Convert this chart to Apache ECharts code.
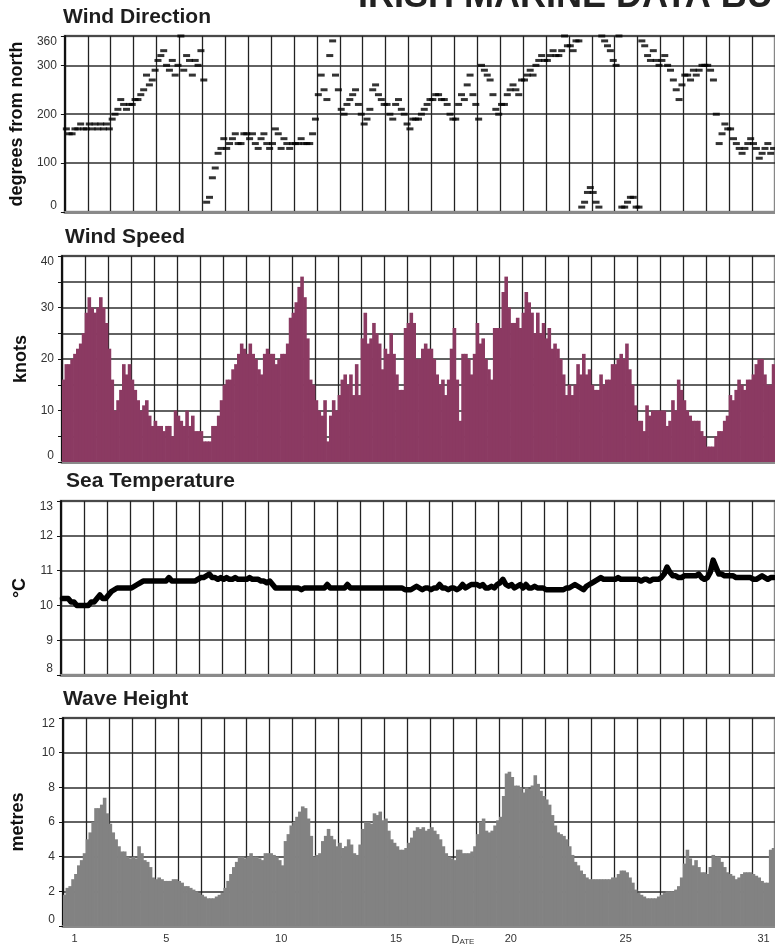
<!DOCTYPE html>
<html><head><meta charset="utf-8">
<script src="https://cdn.jsdelivr.net/npm/echarts@6/dist/echarts.min.js"></script>
<style>html,body{margin:0;padding:0;background:#fff}#c{width:775px;height:947px}</style>
</head><body><div id="c"></div>
<script>
// ---- data (3-hourly readings, 8 per day, 31 days) ----
const days = ['1','2','3','4','5','6','7','8','9','10','11','12','13','14','15','16','17','18','19','20','21','22','23','24','25','26','27','28','29','30','31'];
const labeledDays = ['1','5','10','15','20','25','31'];

const windDirection = [
 170,160,160,170,170,180,170,170, 180,170,180,170,180,170,180,170, 190,200,210,230,220,210,220,220,
 230,230,240,250,280,260,270,290, 310,320,330,300,290,310,280,300, 360,290,320,310,280,310,300,330,
 270,20,30,70,90,120,130,150, 130,140,150,160,140,140,160,160, 150,160,140,130,150,160,140,130,
 140,170,160,130,150,140,130,140, 140,140,150,140,140,140,160,190, 240,280,250,230,320,350,280,250,
 210,200,220,230,240,250,220,200, 180,190,210,250,260,240,230,220, 220,200,190,220,230,210,200,180,
 170,190,190,190,200,210,220,230, 230,240,240,230,230,220,200,190, 190,220,240,230,260,280,240,220,
 190,300,290,280,270,240,210,200, 220,220,240,250,260,250,240,270, 270,280,290,280,300,310,320,310,
 310,320,330,320,320,330,360,340, 340,330,350,350,10,20,40,50, 40,20,10,360,350,340,330,310,
 300,360,10,10,20,30,30,10, 10,350,340,320,310,330,310,300, 310,320,300,290,270,250,230,260,
 280,280,270,290,280,290,300,300, 300,290,270,200,140,160,180,170, 170,150,140,130,120,130,140,150,
 140,130,110,120,130,140,120,130
];

const windSpeed = [
 16,19,19,20,21,22,23,25, 29,32,30,29,30,32,30,27, 22,16,10,12,14,19,17,19,
 16,14,12,10,11,12,9,7, 8,7,7,6,7,7,5,10, 9,8,7,10,7,9,6,6,
 6,4,4,4,7,7,9,12, 15,16,16,18,19,21,23,22, 21,23,21,20,18,17,21,22,
 21,21,19,20,21,21,23,28, 29,31,34,36,32,24,16,15, 12,10,9,12,4,9,12,10,
 13,16,17,15,17,13,19,13, 24,29,23,24,27,25,23,18, 22,21,25,21,17,14,14,26,
 27,29,27,20,20,22,23,22, 22,20,17,15,16,13,16,22, 26,16,8,21,21,20,17,21,
 27,23,24,20,18,16,26,26, 26,33,36,30,27,27,28,26, 29,33,31,29,25,29,25,27,
 24,26,22,23,22,20,17,13, 15,13,15,19,17,21,17,18, 15,14,14,17,15,16,16,19,
 19,20,21,20,23,18,15,11, 8,8,6,11,9,10,10,10, 10,10,7,8,12,10,16,14,
 12,10,9,8,8,8,6,5, 3,3,3,5,6,6,8,9, 13,12,14,16,15,14,16,16,
 17,19,20,20,17,15,15,19
];

const seaTemperature = [
 10.2,10.2,10.2,10.1,10.1,10.0,10.0,10.0, 10.0,10.0,10.1,10.1,10.2,10.3,10.2,10.2, 10.3,10.4,10.45,10.5,10.5,10.5,10.5,10.5,
 10.5,10.55,10.6,10.65,10.7,10.7,10.7,10.7, 10.7,10.7,10.7,10.7,10.7,10.8,10.7,10.7, 10.7,10.7,10.7,10.7,10.7,10.7,10.7,10.75,
 10.8,10.8,10.85,10.9,10.8,10.8,10.75,10.8, 10.75,10.8,10.75,10.75,10.8,10.75,10.75,10.75, 10.75,10.8,10.75,10.75,10.75,10.7,10.7,10.65,
 10.7,10.6,10.5,10.5,10.5,10.5,10.5,10.5, 10.5,10.5,10.5,10.45,10.5,10.5,10.5,10.5, 10.5,10.5,10.5,10.5,10.6,10.5,10.5,10.5,
 10.5,10.5,10.5,10.6,10.5,10.5,10.5,10.5, 10.5,10.5,10.5,10.5,10.5,10.5,10.5,10.5, 10.5,10.5,10.5,10.5,10.5,10.5,10.5,10.45,
 10.45,10.45,10.5,10.55,10.5,10.45,10.5,10.5, 10.45,10.5,10.5,10.6,10.5,10.5,10.45,10.5, 10.5,10.45,10.5,10.6,10.5,10.55,10.6,10.6,
 10.6,10.55,10.6,10.5,10.5,10.55,10.5,10.6, 10.65,10.75,10.6,10.55,10.6,10.5,10.55,10.6, 10.5,10.6,10.5,10.5,10.55,10.5,10.5,10.5,
 10.45,10.45,10.45,10.45,10.45,10.45,10.45,10.5, 10.5,10.55,10.6,10.55,10.5,10.45,10.55,10.6, 10.65,10.7,10.75,10.8,10.75,10.75,10.75,10.75,
 10.75,10.8,10.75,10.75,10.75,10.75,10.75,10.75, 10.75,10.7,10.75,10.75,10.7,10.75,10.75,10.75, 10.8,10.9,11.1,10.95,10.85,10.85,10.8,10.8,
 10.85,10.85,10.85,10.85,10.85,10.9,10.8,10.75, 10.8,10.95,11.3,11.1,10.9,10.9,10.85,10.85, 10.85,10.85,10.8,10.8,10.8,10.8,10.8,10.8,
 10.75,10.75,10.8,10.85,10.8,10.75,10.8,10.8
];

const waveHeight = [
 1.8,2.2,2.3,2.7,3.0,3.5,3.8,4.2, 5.0,5.4,6.0,6.8,6.8,7.0,7.4,6.5, 5.9,5.4,5.0,4.6,4.3,4.3,4.0,3.9,
 4.0,3.9,4.6,4.2,3.8,3.7,3.4,2.8, 2.7,2.8,2.7,2.6,2.6,2.6,2.7,2.7, 2.6,2.5,2.3,2.3,2.2,2.1,2.0,1.9,
 1.8,1.7,1.6,1.6,1.6,1.7,1.8,1.9, 2.2,2.6,3.0,3.4,3.7,4.0,4.0,3.9, 4.0,4.2,4.0,4.0,3.9,3.8,4.2,4.2,
 4.2,4.1,4.0,3.8,3.5,4.9,5.3,5.8, 6.0,6.3,6.6,6.9,6.8,6.2,5.2,4.0, 4.1,4.2,4.9,5.2,5.6,5.2,5.0,4.6,
 4.8,4.5,4.6,5.0,4.7,4.2,4.1,4.7, 5.6,6.0,6.0,5.9,6.5,6.4,6.6,6.1, 6.2,5.5,5.0,4.8,4.6,4.4,4.4,4.5,
 4.8,5.1,5.5,5.7,5.6,5.7,5.5,5.6, 5.7,5.5,5.3,5.0,4.6,4.2,4.0,3.9, 3.8,4.4,4.4,4.2,4.2,4.2,4.3,4.6,
 5.3,6.0,6.2,5.5,5.4,5.5,5.8,6.1, 6.3,7.5,8.8,8.9,8.6,8.1,8.1,8.0, 7.7,8.0,7.9,8.1,8.7,8.2,7.8,7.5,
 7.3,7.0,6.4,5.8,5.4,5.3,5.2,5.0, 4.6,4.1,3.7,3.5,3.2,3.0,2.8,2.7, 2.7,2.7,2.7,2.7,2.7,2.7,2.7,2.8,
 2.8,3.0,3.2,3.2,3.1,2.8,2.5,2.1, 1.9,1.8,1.7,1.6,1.6,1.6,1.6,1.7, 1.8,1.9,2.0,2.0,2.0,2.1,2.3,2.8,
 3.6,4.4,3.9,3.5,3.8,3.4,3.1,3.1, 3.0,3.4,4.1,4.0,4.0,3.7,3.4,3.1, 3.0,2.9,2.7,2.8,3.0,3.1,3.1,3.1,
 3.0,2.9,2.8,2.6,2.5,2.5,4.4,4.5
];

const panelTitles = ['Wind Direction','Wind Speed','Sea Temperature','Wave Height'];
const axisNames = ['degrees from north','knots','°C','metres'];

// ---- layout ----
const FONT = '"Liberation Sans", Arial, Helvetica, sans-serif';
const panels = [
  {left:59, top:36,  width:717, height:176, min:0, max:360, interval:100, gap:33, titleX:63, titleY:17.5},
  {left:62, top:256, width:714, height:206, min:0, max:40,  interval:5,   gap:31, titleX:65, titleY:237.5},
  {left:61, top:501, width:715, height:174, min:8, max:13,  interval:1,   gap:28, titleX:66, titleY:481.5},
  {left:63, top:718, width:713, height:208, min:0, max:12,  interval:2,   gap:36, titleX:63, titleY:699.5}
];
const sampleIdx = windSpeed.map((_, i) => i);

const grid = [], xAxis = [], yAxis = [];
panels.forEach((p, i) => {
  grid.push({left:p.left, top:p.top, width:p.width, height:p.height, show:true,
    borderColor:'#9a9a9a', borderWidth:2.5, backgroundColor:'#fff'});
  xAxis.push({type:'category', gridIndex:i, data:days, boundaryGap:true, position:'bottom',
    axisLine:{show:true, lineStyle:{color:'#8a8a8a', width:3}},
    axisTick:{show:false},
    axisLabel:{show:i===3, interval:(idx, val) => labeledDays.includes(val), color:'#333', fontSize:11, margin:7, fontFamily:FONT},
    splitLine:{show:true, interval:0, lineStyle:{color:'#222', width:1.3}}});
  xAxis.push({type:'category', gridIndex:i, data:sampleIdx, boundaryGap:true, position:'top', show:false});
  yAxis.push({type:'value', gridIndex:i, min:p.min, max:p.max, interval:p.interval,
    axisLine:{show:true, lineStyle:{color:'#111', width:2}},
    axisTick:{show:true, length:4, lineStyle:{color:'#111', width:1}},
    axisLabel:{color:'#333', fontSize:12, margin:8, fontFamily:FONT,
      verticalAlignMinLabel:'bottom', verticalAlignMaxLabel:'top',
      formatter: i===1 ? (v => (v % 10 === 0 ? String(v) : '')) : (v => String(v))},
    splitLine:{show:true, lineStyle:{color:'#2e2e2e', width:1.5}},
    name:axisNames[i], nameLocation:'middle', nameGap:p.gap,
    nameTextStyle:{fontWeight:'bold', fontSize:18, color:'#111', fontFamily:FONT}});
});

const graphic = [
  {type:'text', x:358, y:-3, silent:true,
   style:{text:'IRISH MARINE DATA BUOYS', fontSize:36, fontWeight:'bold', fontFamily:FONT, fill:'#222',
          verticalAlign:'middle', textVerticalAlign:'middle'}},
  {type:'text', x:463, y:940, silent:true,
   style:{text:'{a|D}{b|ATE}', fill:'#333', align:'center', textAlign:'center', verticalAlign:'middle', textVerticalAlign:'middle',
          rich:{a:{fontSize:11, fontFamily:FONT, fill:'#333', verticalAlign:'bottom'}, b:{fontSize:8, fontFamily:FONT, fill:'#333', verticalAlign:'bottom'}}}}
];
panels.forEach((p, i) => {
  graphic.push({type:'text', x:p.titleX, y:p.titleY, silent:true,
    style:{text:panelTitles[i], fontSize:21, fontWeight:'bold', fontFamily:FONT, fill:'#1e1e1e',
           verticalAlign:'middle', textVerticalAlign:'middle'}});
});

const chart = echarts.init(document.getElementById('c'), null, {renderer:'canvas'});
chart.setOption({
  animation:false,
  backgroundColor:'#fff',
  textStyle:{fontFamily:FONT},
  grid, xAxis, yAxis, graphic,
  series:[
    {type:'scatter', xAxisIndex:1, yAxisIndex:0, data:windDirection, symbol:'rect', symbolSize:[7,3],
     itemStyle:{color:'#000'}, silent:true},
    {type:'bar', xAxisIndex:3, yAxisIndex:1, data:windSpeed, barWidth:3.6,
     itemStyle:{color:'#8b3a62'}, silent:true},
    {type:'line', xAxisIndex:5, yAxisIndex:2, data:seaTemperature, symbol:'none', showSymbol:false,
     lineStyle:{color:'#000', width:5.5, cap:'round', join:'round'}, silent:true},
    {type:'bar', xAxisIndex:7, yAxisIndex:3, data:waveHeight, barWidth:3.6,
     itemStyle:{color:'#828282'}, silent:true}
  ]
});
</script>
</body></html>
